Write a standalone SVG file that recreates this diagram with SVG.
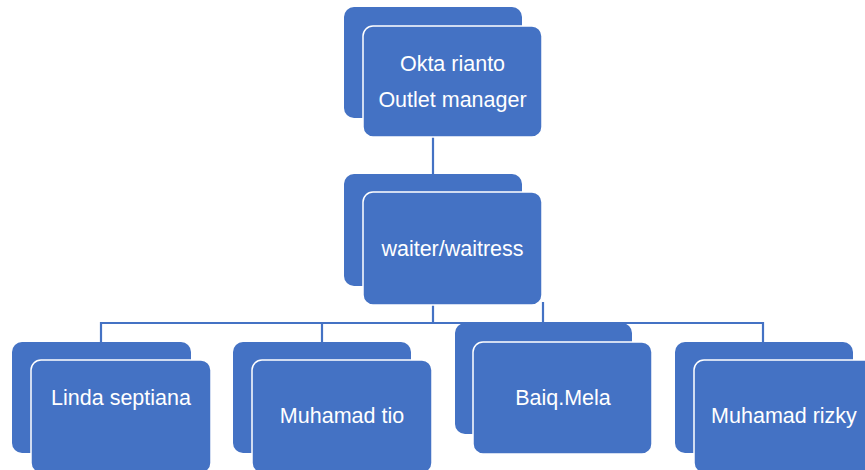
<svg xmlns="http://www.w3.org/2000/svg" width="865" height="470" viewBox="0 0 865 470">
<style>
.back{fill:#4472C4;}
.front{fill:#4472C4;stroke:#FFFFFF;stroke-width:1.5;}
.conn{stroke:#4472C4;stroke-width:2.2;fill:none;}
text{font-family:"Liberation Sans",Arial,sans-serif;font-size:21.5px;fill:#FFFFFF;text-anchor:middle;}
</style>
<rect width="865" height="470" fill="#FFFFFF"/>
<g id="connectors">
<line class="conn" x1="433" y1="137" x2="433" y2="176"/>
<line class="conn" x1="433" y1="305" x2="433" y2="323"/>
<polyline class="conn" points="101,342 101,323 763,323 763,342"/>
<line class="conn" x1="322" y1="323" x2="322" y2="342"/>
<line class="conn" x1="543" y1="302" x2="543" y2="323"/>
</g>
<g id="node-okta">
<rect class="back" x="344" y="7" width="178" height="111" rx="10"/>
<rect class="front" x="363" y="26" width="179" height="111" rx="10"/>
<text x="452.5" y="71">Okta rianto</text>
<text x="452.5" y="107">Outlet manager</text>
</g>
<g id="node-waiter">
<rect class="back" x="344" y="174" width="178" height="112" rx="10"/>
<rect class="front" x="363" y="192" width="179" height="113" rx="10"/>
<text x="452.5" y="256">waiter/waitress</text>
</g>
<g id="node-linda">
<rect class="back" x="12" y="342" width="179" height="111" rx="10"/>
<rect class="front" x="31" y="360" width="180" height="113" rx="10"/>
<text x="121" y="405">Linda septiana</text>
</g>
<g id="node-tio">
<rect class="back" x="233" y="342" width="178" height="111" rx="10"/>
<rect class="front" x="252" y="360" width="180" height="113" rx="10"/>
<text x="342" y="423">Muhamad tio</text>
</g>
<g id="node-baiq">
<rect class="back" x="455" y="323" width="177" height="111" rx="10"/>
<rect class="front" x="473" y="342" width="179" height="112" rx="10"/>
<text x="563" y="405">Baiq.Mela</text>
</g>
<g id="node-rizky">
<rect class="back" x="675" y="342" width="178" height="111" rx="10"/>
<rect class="front" x="694" y="360" width="180" height="113" rx="10"/>
<text x="784" y="423">Muhamad rizky</text>
</g>
</svg>
